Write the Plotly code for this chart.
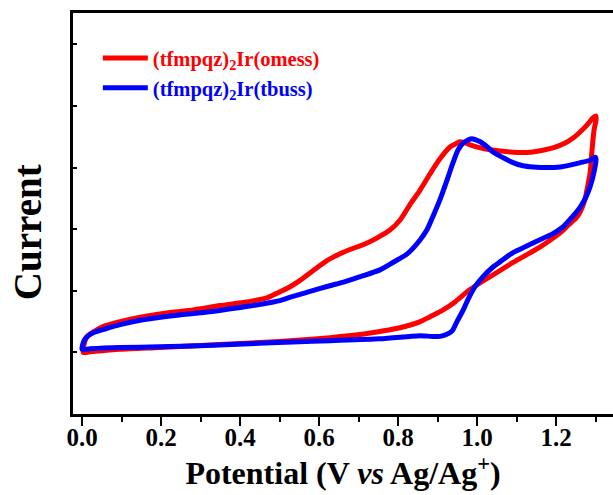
import plotly.graph_objects as go

# Potential (V vs Ag/Ag+) and current (arb. units)
red_x = [0.003, 0.005, 0.013, 0.033, 0.053, 0.096, 0.154, 0.223, 0.281, 0.349, 0.408, 0.451, 0.470, 0.490,
         0.522, 0.552, 0.585, 0.620, 0.653, 0.678, 0.716, 0.747, 0.780, 0.805, 0.830, 0.856, 0.881, 0.899,
         0.919, 0.932, 0.944, 0.957, 0.970, 0.982, 1.008, 1.033, 1.058, 1.091, 1.134, 1.172, 1.192, 1.223,
         1.243, 1.266, 1.278, 1.294, 1.301,
         1.301, 1.296, 1.291, 1.286, 1.278, 1.273, 1.261, 1.253, 1.230, 1.210, 1.159, 1.091, 1.033, 0.982,
         0.944, 0.914, 0.881, 0.856, 0.805, 0.754, 0.704, 0.628, 0.552, 0.451, 0.324, 0.197, 0.096, 0.020, 0.003]
red_y = [1.00, 1.13, 1.26, 1.35, 1.42, 1.50, 1.58, 1.65, 1.69, 1.76, 1.81, 1.86, 1.89, 1.95,
         2.05, 2.17, 2.33, 2.49, 2.60, 2.67, 2.76, 2.86, 2.99, 3.15, 3.40, 3.64, 3.90, 4.08,
         4.25, 4.34, 4.38, 4.42, 4.40, 4.37, 4.32, 4.29, 4.27, 4.25, 4.25, 4.29, 4.32, 4.40,
         4.48, 4.61, 4.69, 4.81, 4.84,
         4.77, 4.61, 4.29, 3.91, 3.64, 3.48, 3.28, 3.20, 3.06, 2.94, 2.71, 2.46, 2.23, 2.02,
         1.82, 1.69, 1.58, 1.50, 1.40, 1.34, 1.29, 1.24, 1.20, 1.16, 1.12, 1.08, 1.05, 1.01, 1.00]

blue_x = [0.000, 0.003, 0.010, 0.028, 0.058, 0.096, 0.154, 0.235, 0.324, 0.400, 0.451, 0.501, 0.534, 0.577,
          0.620, 0.666, 0.704, 0.754, 0.787, 0.823, 0.856, 0.873, 0.889, 0.906, 0.924, 0.939, 0.952,
          0.965, 0.977, 0.987, 0.997, 1.008, 1.025, 1.041, 1.066, 1.091, 1.116, 1.142, 1.177, 1.210, 1.235,
          1.261, 1.286, 1.299,
          1.301, 1.296, 1.286, 1.276, 1.261, 1.241, 1.218, 1.190, 1.159, 1.127, 1.091, 1.058, 1.041, 1.015,
          0.995, 0.977, 0.965, 0.949, 0.937, 0.922, 0.906, 0.886, 0.856, 0.830, 0.754, 0.628, 0.534, 0.425,
          0.299, 0.197, 0.096, 0.020, 0.000]
blue_y = [1.05, 1.16, 1.24, 1.32, 1.38, 1.45, 1.53, 1.60, 1.66, 1.73, 1.78, 1.84, 1.91, 1.99,
          2.07, 2.15, 2.23, 2.34, 2.46, 2.60, 2.83, 2.99, 3.22, 3.48, 3.80, 4.08, 4.29,
          4.40, 4.45, 4.47, 4.45, 4.42, 4.34, 4.25, 4.16, 4.08, 4.03, 4.01, 4.00, 4.01, 4.04,
          4.08, 4.12, 4.17,
          4.14, 3.93, 3.69, 3.53, 3.36, 3.20, 3.04, 2.92, 2.83, 2.73, 2.62, 2.47, 2.39, 2.23,
          2.07, 1.86, 1.69, 1.50, 1.35, 1.29, 1.26, 1.26, 1.27, 1.26, 1.22, 1.19, 1.17, 1.14,
          1.11, 1.09, 1.08, 1.06, 1.05]

x_ticks = [0.0, 0.2, 0.4, 0.6, 0.8, 1.0, 1.2]
x_ticktext = ["0.0", "0.2", "0.4", "0.6", "0.8", "1.0", "1.2"]

FONT = "Liberation Serif"

fig = go.Figure()
fig.add_trace(go.Scatter(
    x=red_x, y=red_y, mode="lines",
    line=dict(color="#ff0000", width=5, shape="spline", smoothing=0.7),
    name="<span style='color:#ff0000'><b>(tfmpqz)<sub>2</sub>Ir(omess)</b></span>",
))
fig.add_trace(go.Scatter(
    x=blue_x, y=blue_y, mode="lines",
    line=dict(color="#0000ff", width=5, shape="spline", smoothing=0.7),
    name="<span style='color:#0000ff'><b>(tfmpqz)<sub>2</sub>Ir(tbuss)</b></span>",
))

fig.update_layout(
    width=613, height=495,
    margin=dict(l=73, r=0, t=13, b=81),
    paper_bgcolor="white", plot_bgcolor="white",
    font=dict(family=FONT, color="black"),
    showlegend=True,
    legend=dict(x=0.046, y=0.937, xanchor="left", yanchor="top",
                bgcolor="rgba(0,0,0,0)", font=dict(family=FONT, size=20.5),
                itemwidth=45, tracegroupgap=0),
    xaxis=dict(
        range=[-0.023, 1.344], showgrid=False, zeroline=False,
        showline=True, linecolor="black", linewidth=2.5, mirror=True,
        ticks="outside", ticklen=9, tickwidth=2, tickcolor="black",
        tickvals=x_ticks, ticktext=x_ticktext, ticklabelstandoff=-10,
        tickfont=dict(family=FONT, size=25, color="black", weight="bold"),
        minor=dict(dtick=0.1, tick0=0, ticks="outside", ticklen=5, tickwidth=2, tickcolor="black"),
        title=dict(text="<b>Potential (V <i>vs</i> Ag/Ag<sup>+</sup>)</b>",
                   font=dict(family=FONT, size=32, color="black"), standoff=10),
    ),
    yaxis=dict(
        range=[0, 6.51], showgrid=False, zeroline=False,
        showline=True, linecolor="black", linewidth=2.5, mirror=False,
        ticks="inside", ticklen=4, tickwidth=1.5, tickcolor="black",
        dtick=1, tick0=0, showticklabels=False,
    ),
    annotations=[dict(
        text="<b>Current</b>", x=-0.083, y=0.454, xref="paper", yref="paper",
        textangle=-90, showarrow=False, xanchor="center", yanchor="middle",
        font=dict(family=FONT, size=39, color="black"),
    )],
)

fig.write_html("out.html")
